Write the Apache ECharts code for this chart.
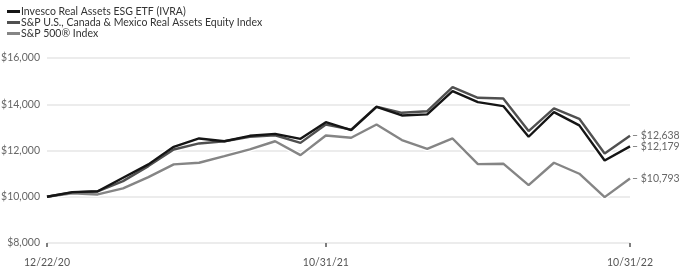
<!DOCTYPE html>
<html><head><meta charset="utf-8">
<script src="https://cdn.jsdelivr.net/npm/echarts@6/dist/echarts.min.js"></script>
<style>html,body{margin:0;padding:0;background:#fff}#c{width:680px;height:269px}</style>
</head><body><div id="c"></div>
<script>
const categories = ['12/22/20','12/31/20','1/31/21','2/28/21','3/31/21','4/30/21','5/31/21','6/30/21','7/31/21','8/31/21','9/30/21','10/31/21',
  '11/30/21','12/31/21','1/31/22','2/28/22','3/31/22','4/30/22','5/31/22','6/30/22','7/31/22','8/31/22','9/30/22','10/31/22'];
const ivra = [10000,10200,10240,10820,11400,12160,12520,12400,12635,12720,12505,13225,
  12880,13890,13515,13560,14565,14090,13920,12595,13660,13085,11570,12179];
const realAssets = [10000,10190,10230,10675,11325,12045,12305,12400,12595,12660,12330,13125,
  12900,13900,13630,13700,14740,14280,14250,12840,13820,13370,11870,12638];
const sp500 = [10000,10150,10100,10360,10850,11400,11470,11755,12045,12400,11800,12650,
  12550,13125,12450,12075,12520,11410,11430,10500,11470,10995,9985,10793];
const yTicks = [8000,10000,12000,14000,16000];
const names = ['Invesco Real Assets ESG ETF (IVRA)','S&P U.S., Canada & Mexico Real Assets Equity Index','S&P 500\u00AE Index'];
const colors = ['#151515','#505050','#858585'];
const labelIdx = [0,11,23];

const font = 'Lato, "Open Sans", sans-serif';
const chart = echarts.init(document.getElementById('c'));
function halo(data){
  return {type:'line',data,symbol:'none',silent:true,animation:false,lineStyle:{color:'#fff',width:5},z:2,legendHoverLink:false};
}
function main(name,data,color,z){
  return {name,type:'line',data,symbol:'none',animation:false,lineStyle:{color,width:2.4},itemStyle:{color},z,
    endLabel:{show:true,formatter:p=>'\u2013 $'+p.value.toLocaleString('en-US'),color:'#666',fontSize:10.5,fontFamily:font,distance:2}};
}
chart.setOption({
  animation:false,
  grid:{left:47,right:50,top:58,bottom:26,containLabel:false,outerBoundsMode:'none'},
  legend:{data:names,orient:'vertical',left:2,top:1,itemGap:0,itemWidth:13,itemHeight:3,icon:'rect',
    textStyle:{fontSize:10.5,color:'#333',fontFamily:font,padding:[0,0,0,-4]}},
  xAxis:{type:'category',data:categories,boundaryGap:false,
    axisLine:{show:false},
    axisTick:{show:true,length:4,alignWithLabel:true,interval:(i)=>labelIdx.includes(i),lineStyle:{color:'#555',width:1.5},inside:false},
    axisLabel:{interval:(i)=>labelIdx.includes(i),color:'#555',fontSize:10.5,fontFamily:font,margin:14},
    splitLine:{show:false}},
  yAxis:{type:'value',min:8000,max:16000,interval:2000,
    axisLine:{show:false},axisTick:{show:false},
    axisLabel:{formatter:v=>'$'+v.toLocaleString('en-US'),color:'#666',fontSize:10.5,fontFamily:font,margin:7},
    splitLine:{lineStyle:{color:'#e6e6e6',width:1.5}}},
  series:[
    halo(sp500), main(names[2],sp500,colors[2],3),
    halo(realAssets), main(names[1],realAssets,colors[1],5),
    halo(ivra), main(names[0],ivra,colors[0],7)
  ]
});
</script></body></html>
